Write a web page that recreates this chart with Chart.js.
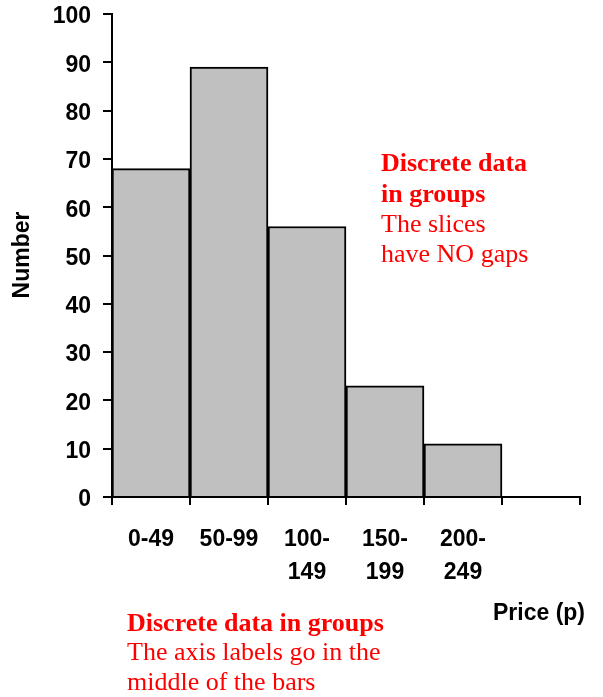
<!DOCTYPE html>
<html>
<head>
<meta charset="utf-8">
<script src="https://cdn.jsdelivr.net/npm/chart.js@4"></script>
<style>
  html, body { margin: 0; padding: 0; background: #fff; }
  #wrap { width: 603px; height: 697px; }
</style>
</head>
<body>
<div id="wrap"><canvas id="hist"></canvas></div>
<script>
// price groups (the last slot is left empty on purpose)
const priceGroups = [["0-49"], ["50-99"], ["100-", "149"], ["150-", "199"], ["200-", "249"], [""]];
const counts = [68, 89, 56, 23, 11, null];
const yMin = 0;
const yMax = 100;
const yStep = 10;

const sideNote = [
  { text: "Discrete data", bold: true },
  { text: "in groups", bold: true },
  { text: "The slices", bold: false },
  { text: "have NO gaps", bold: false }
];
const bottomNote = [
  { text: "Discrete data in groups", bold: true },
  { text: "The axis labels go in the", bold: false },
  { text: "middle of the bars", bold: false }
];

const sans = "'Liberation Sans', Arial, sans-serif";
const serif = "'Liberation Serif', 'Times New Roman', serif";

// extra text: axis titles and the two red notes
const notesPlugin = {
  id: "notes",
  afterDraw(chart) {
    const ctx = chart.ctx;
    ctx.save();
    ctx.fillStyle = "#000";
    ctx.font = "bold 23px " + sans;
    ctx.textAlign = "left";
    ctx.textBaseline = "alphabetic";
    ctx.fillText("Price (p)", 493, 620);

    ctx.save();
    ctx.translate(23, 255);
    ctx.rotate(-Math.PI / 2);
    ctx.textAlign = "center";
    ctx.textBaseline = "middle";
    ctx.fillText("Number", 0, 0);
    ctx.restore();

    ctx.fillStyle = "#ff0000";
    const sideY = [171, 202, 232, 262];
    sideNote.forEach(function(line, i) {
      ctx.font = (line.bold ? "bold " : "") + "26px " + serif;
      ctx.fillText(line.text, 381, sideY[i]);
    });
    const bottomY = [631, 660, 690];
    bottomNote.forEach(function(line, i) {
      ctx.font = (line.bold ? "bold " : "") + "26px " + serif;
      ctx.fillText(line.text, 127, bottomY[i]);
    });
    ctx.restore();
  }
};

const histChart = new Chart(document.getElementById("hist"), {
  type: "bar",
  data: {
    labels: priceGroups,
    datasets: [{
      label: "Number",
      data: counts,
      backgroundColor: "#c0c0c0",
      borderColor: "#000",
      borderWidth: 2,
      barPercentage: 1,
      categoryPercentage: 1
    }]
  },
  options: {
    responsive: true,
    maintainAspectRatio: false,
    animation: false,
    devicePixelRatio: 1,
    layout: { padding: { left: 0, right: 23, top: 14, bottom: 0 } },
    plugins: {
      legend: { display: false },
      tooltip: { enabled: false }
    },
    scales: {
      x: {
        border: { display: true, color: "#000", width: 2 },
        grid: { drawOnChartArea: false, drawTicks: true, tickLength: 8, color: "#000", lineWidth: 2 },
        ticks: {
          autoSkip: false,
          maxRotation: 0,
          minRotation: 0,
          padding: 19,
          color: "#000",
          font: { family: sans, size: 23, weight: "bold", lineHeight: 1.4 }
        },
        afterFit(scale) {
          scale.height = 200;
          scale.paddingLeft = 0;
          scale.paddingRight = 0;
        }
      },
      y: {
        min: yMin,
        max: yMax,
        border: { display: true, color: "#000", width: 2 },
        grid: { drawOnChartArea: false, drawTicks: true, tickLength: 9, color: "#000", lineWidth: 2 },
        ticks: {
          stepSize: yStep,
          padding: 12,
          labelOffset: 3,
          color: "#000",
          font: { family: sans, size: 23, weight: "bold" }
        },
        afterFit(scale) {
          scale.width = 112;
          scale.paddingTop = 0;
          scale.paddingBottom = 0;
        }
      }
    }
  },
  plugins: [notesPlugin]
});
</script>
</body>
</html>
